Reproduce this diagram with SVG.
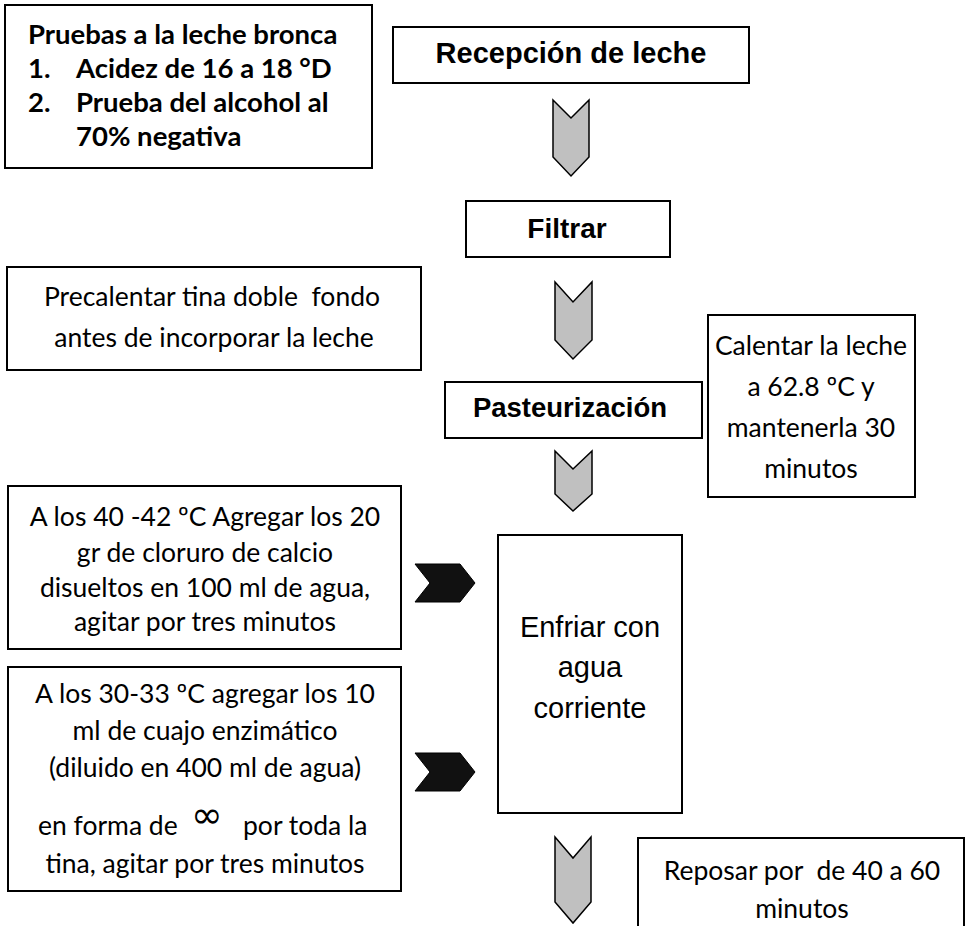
<svg xmlns="http://www.w3.org/2000/svg" width="966" height="926" viewBox="0 0 966 926">
<style>
.box{fill:#fff;stroke:#000;stroke-width:2}
.cal{font-family:Lato,"Liberation Sans",sans-serif;font-size:26.5px;fill:#000;white-space:pre}
.calb{font-family:Lato,"Liberation Sans",sans-serif;font-size:27.5px;font-weight:bold;fill:#000;white-space:pre}
.ar{font-family:"Liberation Sans",Arial,sans-serif;fill:#000}
.arb{font-family:"Liberation Sans",Arial,sans-serif;font-weight:bold;fill:#000}
.down{fill:#c0c0c0;stroke:#000;stroke-width:1.5;stroke-linejoin:miter}
.right{fill:#111;stroke:#000;stroke-width:1}
</style>
<rect width="966" height="926" fill="#fff"/>
<g id="connectors">
<path class="down" d="M553,100 L571,118 L589,100 L589,157 L571,176 L553,157 Z"/>
<path class="down" d="M555,282 L573,302 L592,282 L592,340 L573,359 L555,340 Z"/>
<path class="down" d="M555,451 L573,469 L592,451 L592,494 L573,511 L555,494 Z"/>
<path class="down" d="M555,837 L573,858 L591,837 L591,902 L573,923 L555,902 Z"/>
<path class="right" d="M415,564 L460,564 L475,583 L460,602 L415,602 L430,583 Z"/>
<path class="right" d="M415,753 L460,753 L475,772 L460,791 L415,791 L430,772 Z"/>
</g>
<g id="pruebas">
<rect class="box" x="5" y="5" width="367" height="163"/>
<text class="calb" x="28" y="44">Pruebas a la leche bronca</text>
<text class="calb" x="28" y="78">1.</text>
<text class="calb" x="76" y="78">Acidez de 16 a 18 °D</text>
<text class="calb" x="28" y="112">2.</text>
<text class="calb" x="76" y="112">Prueba del alcohol al</text>
<text class="calb" x="76" y="146">70% negativa</text>
</g>
<g id="recepcion">
<rect class="box" x="393" y="27" width="356" height="56"/>
<text class="arb" x="571" y="63" font-size="29" text-anchor="middle">Recepción de leche</text>
</g>
<g id="filtrar">
<rect class="box" x="466" y="201" width="204" height="56"/>
<text class="arb" x="567" y="238" font-size="28" text-anchor="middle">Filtrar</text>
</g>
<g id="precalentar">
<rect class="box" x="7" y="267" width="414" height="103"/>
<text class="cal" x="212" y="306" text-anchor="middle">Precalentar tina doble  fondo</text>
<text class="cal" x="214" y="347" text-anchor="middle">antes de incorporar la leche</text>
</g>
<g id="pasteurizacion">
<rect class="box" x="445" y="382" width="257" height="56"/>
<text class="arb" x="570" y="417" font-size="27.5" text-anchor="middle">Pasteurización</text>
</g>
<g id="calentar">
<rect class="box" x="708" y="315" width="207" height="182"/>
<text class="cal" x="811" y="355" font-size="25" text-anchor="middle">Calentar la leche</text>
<text class="cal" x="811" y="396" font-size="25" text-anchor="middle">a 62.8 ºC y</text>
<text class="cal" x="811" y="437" font-size="25" text-anchor="middle">mantenerla 30</text>
<text class="cal" x="811" y="478" font-size="25" text-anchor="middle">minutos</text>
</g>
<g id="calcio">
<rect class="box" x="8" y="486" width="393" height="163"/>
<text class="cal" x="205" y="526" text-anchor="middle">A los 40 -42 ºC Agregar los 20</text>
<text class="cal" x="205" y="562" text-anchor="middle">gr de cloruro de calcio</text>
<text class="cal" x="205" y="597" text-anchor="middle">disueltos en 100 ml de agua,</text>
<text class="cal" x="205" y="631" text-anchor="middle">agitar por tres minutos</text>
</g>
<g id="cuajo">
<rect class="box" x="8" y="667" width="393" height="224"/>
<text class="cal" x="205" y="703" text-anchor="middle">A los 30-33 ºC agregar los 10</text>
<text class="cal" x="205" y="740" text-anchor="middle">ml de cuajo enzimático</text>
<text class="cal" x="205" y="777" text-anchor="middle">(diluido en 400 ml de agua)</text>
<text class="cal" y="835"><tspan x="38">en forma de</tspan><tspan x="191" y="828" font-family="'DejaVu Sans',sans-serif" font-size="38">∞</tspan><tspan x="243" y="835">por toda la</tspan></text>
<text class="cal" x="205" y="873" text-anchor="middle">tina, agitar por tres minutos</text>
</g>
<g id="enfriar">
<rect class="box" x="498" y="535" width="184" height="278"/>
<text class="ar" x="590" y="637" font-size="29" text-anchor="middle">Enfriar con</text>
<text class="ar" x="590" y="677" font-size="29" text-anchor="middle">agua</text>
<text class="ar" x="590" y="718" font-size="29" text-anchor="middle">corriente</text>
</g>
<g id="reposar">
<rect class="box" x="638" y="838" width="326" height="100"/>
<text class="cal" x="802" y="880" text-anchor="middle">Reposar por  de 40 a 60</text>
<text class="cal" x="802" y="918" text-anchor="middle">minutos</text>
</g>
</svg>
